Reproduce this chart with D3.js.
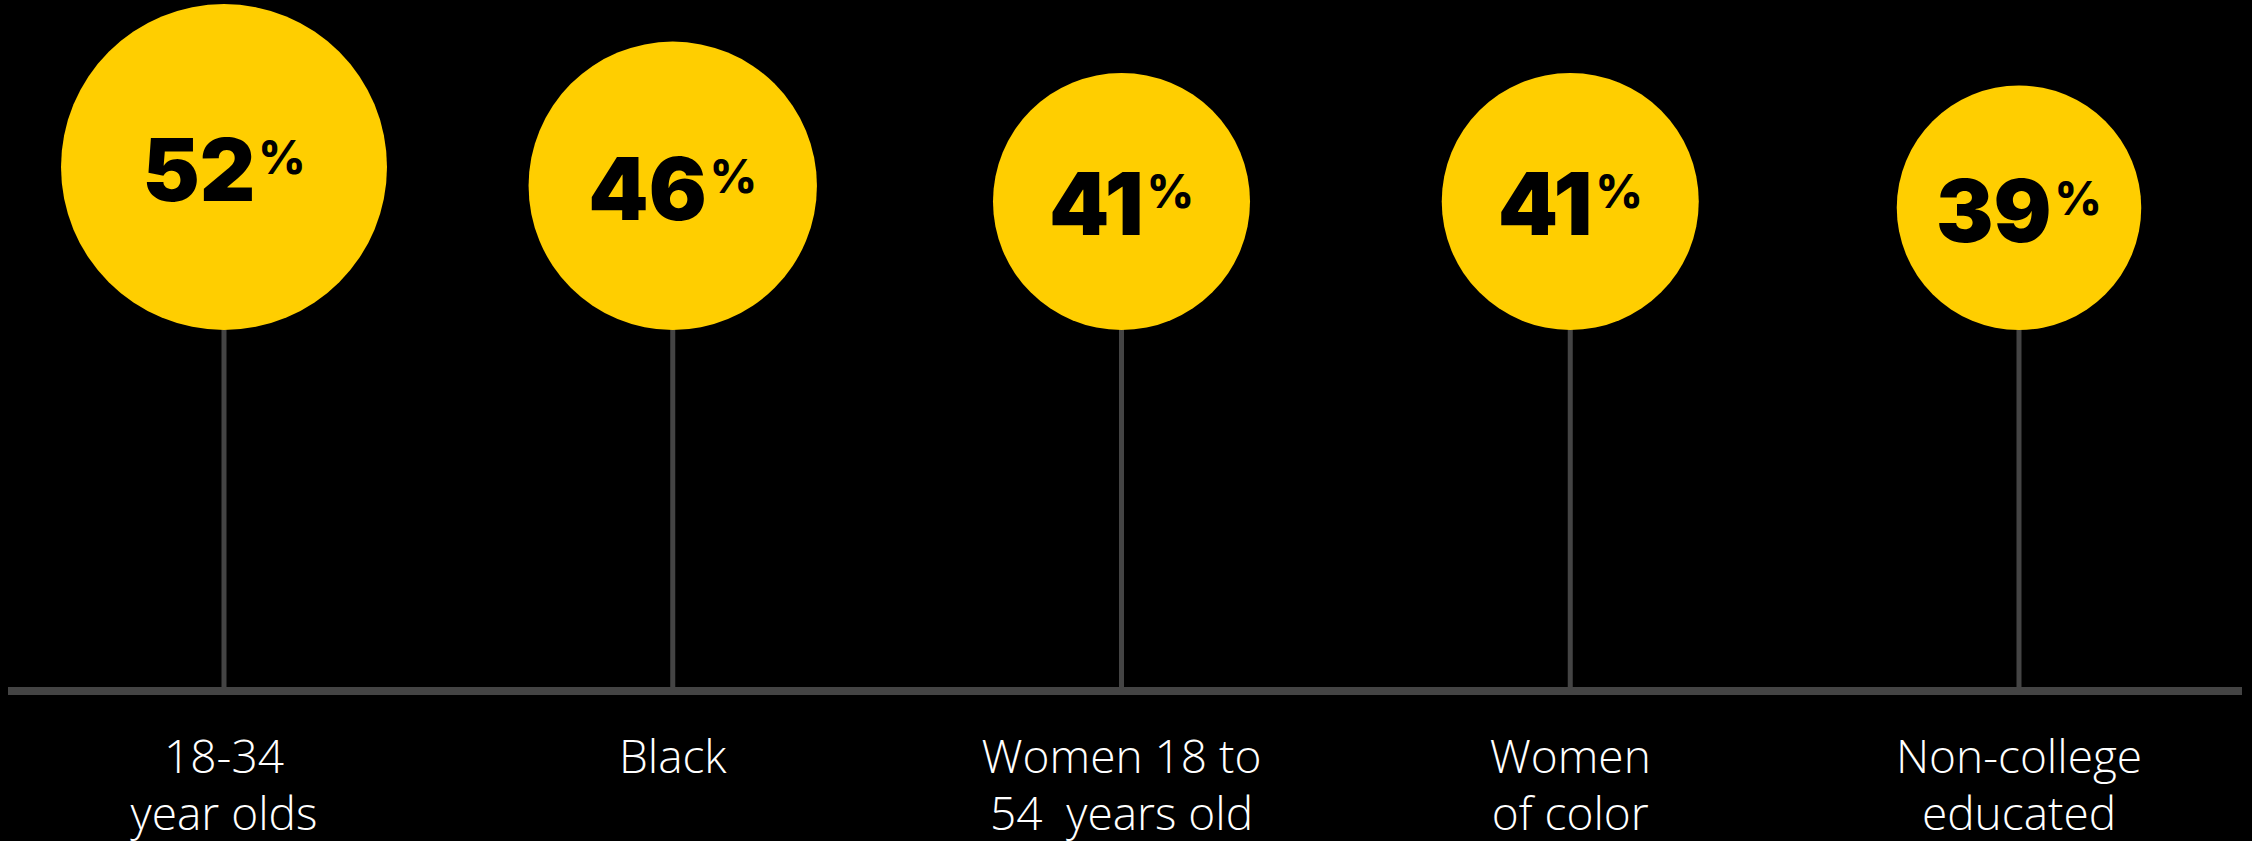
<!DOCTYPE html>
<html>
<head>
<meta charset="utf-8">
<script src="https://cdn.jsdelivr.net/npm/d3@7"></script>
<style>
    body { margin: 0; background: #000; }
    svg { display: block; }
</style>
</head>
<body>
<svg id="chart"></svg>
<script>
// data
let categories = ['18-34 year olds', 'Black', 'Women 18 to 54 years old', 'Women of color', 'Non-college educated'];
let values = [52, 46, 41, 41, 39];
let labelLines = [
    ['18-34', 'year olds'],
    ['Black'],
    ['Women 18 to', '54\u00a0 years old'],
    ['Women', 'of color'],
    ['Non-college', 'educated']
];

let width = 2252, height = 841;
let baselineY = 691;
let circleBottom = 330;

let svg = d3.select('#chart')
    .attr('width', width)
    .attr('height', height);

svg.append('rect')
    .attr('width', width)
    .attr('height', height)
    .attr('fill', '#000');

let x = d3.scalePoint()
    .domain(categories)
    .range([224, 2019]);

// radius grows linearly with the percentage
let r = d3.scaleLinear()
    .domain([0, d3.max(values)])
    .range([0, 163]);

let data = categories.map(function(c, i){
    return {'name': c, 'value': values[i], 'lines': labelLines[i]};
});

// baseline
svg.append('line')
    .attr('x1', 8)
    .attr('x2', 2242)
    .attr('y1', baselineY)
    .attr('y2', baselineY)
    .attr('stroke', '#444')
    .attr('stroke-width', 8);

let g = svg.selectAll('g.item')
    .data(data)
    .enter()
    .append('g')
    .attr('class', 'item')
    .attr('transform', (d)=>'translate(' + x(d.name) + ',0)');

// stems
g.append('line')
    .attr('x1', 0)
    .attr('x2', 0)
    .attr('y1', circleBottom - 2)
    .attr('y2', baselineY)
    .attr('stroke', '#444')
    .attr('stroke-width', 5);

g.append('circle')
    .attr('cx', 0)
    .attr('cy', (d)=>circleBottom - r(d.value))
    .attr('r', (d)=>r(d.value))
    .attr('fill', '#ffce00');

// percentage text, % as a small superscript
let pct = g.append('text')
    .attr('x', 0)
    .attr('y', (d)=>circleBottom - r(d.value) + 34)
    .attr('text-anchor', 'middle')
    .style('font-family', 'Inter, Lato, sans-serif')
    .style('font-weight', 900)
    .style('fill', '#000');

pct.append('tspan')
    .style('font-size', '86px')
    .text((d)=>d.value);

pct.append('tspan')
    .attr('dy', -27)
    .attr('dx', 3)
    .style('font-size', '46px')
    .style('font-weight', 800)
    .text('%');

// category labels below the baseline
let lbl = g.append('text')
    .attr('text-anchor', 'middle')
    .style('font-family', '"Open Sans", sans-serif')
    .style('font-weight', 300)
    .style('font-size', '46px')
    .style('fill', '#fff');

lbl.selectAll('tspan')
    .data((d)=>d.lines)
    .enter()
    .append('tspan')
    .attr('x', 0)
    .attr('y', (d, i)=>773 + i * 57)
    .text((d)=>d);
</script>
</body>
</html>
